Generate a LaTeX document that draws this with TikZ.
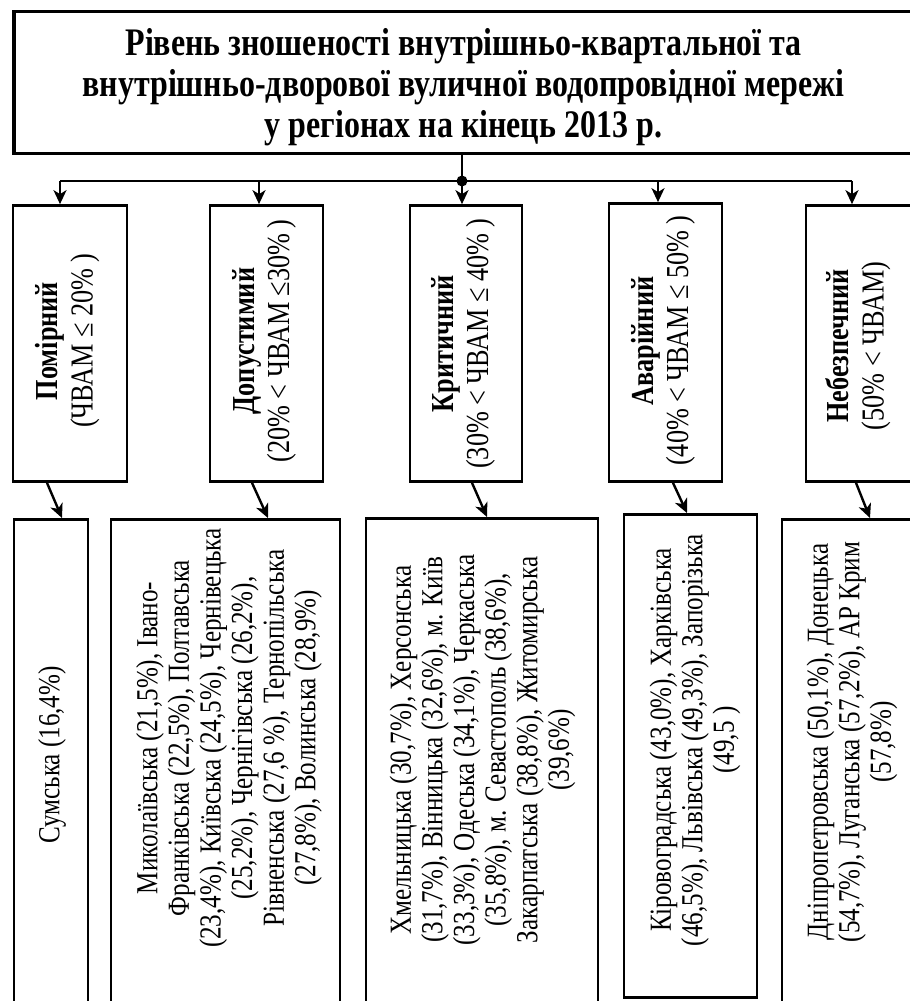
\documentclass[tikz,border=0pt]{standalone}
\usepackage{fontspec}
\setmainfont[FakeStretch=0.82]{Liberation Serif}
\usetikzlibrary{arrows.meta,calc}

\tikzset{
  box/.style={draw, line width=2.7pt, inner sep=0pt},
  levtext/.style={rotate=90, align=center, inner sep=0pt, font=\fontsize{32}{35}\selectfont},
  regtext/.style={rotate=90, align=center, inner sep=0pt, font=\fontsize{30.6}{31.6}\selectfont},
  line/.style={line width=2.4pt},
  conn/.style={line width=2.4pt, -{Stealth[length=14pt,width=13pt,inset=4pt]}}
}

\begin{document}
\begin{tikzpicture}[x=1pt,y=-1pt]
\useasboundingbox (0,0) rectangle (910,1001);
\fill[white] (0,0) rectangle (910,1001);
\clip (0,0) rectangle (910,1001);

\node[box, line width=3.6pt, minimum width=899, minimum height=142, align=center,
  font=\bfseries\fontsize{39}{41}\selectfont] (title) at (463.5,82.5)
  {\rule{0pt}{37pt}Рівень зношеності внутрішньо-квартальної та\\
   внутрішньо-дворової вуличної водопровідної мережі\\
   у регіонах на кінець 2013 р.};

\node[box, minimum width=114, minimum height=276] (lvl1) at (70,343.5) {};
\node[box, minimum width=113, minimum height=276] (lvl2) at (266.5,343.5) {};
\node[box, minimum width=112, minimum height=276] (lvl3) at (466,343.5) {};
\node[box, minimum width=113, minimum height=278] (lvl4) at (665.5,342.5) {};
\node[box, minimum width=113, minimum height=276] (lvl5) at (862.5,343.5) {};

\node[levtext] (lvl1t) at (67.5,341) {\textbf{Помірний}\\(ЧВАМ ≤ 20\%\,)};
\node[levtext] (lvl2t) at (264,341) {\textbf{Допустимий}\\(20\% < ЧВАМ ≤30\%\,)};
\node[levtext] (lvl3t) at (463,344) {\textbf{Критичний}\\(30\% < ЧВАМ ≤ 40\%\,)};
\node[levtext] (lvl4t) at (663,341) {\textbf{Аварійний}\\(40\% < ЧВАМ ≤ 50\%\,)};
\node[levtext] (lvl5t) at (858,346) {\textbf{Небезпечний}\\(50\% < ЧВАМ)};

\node[box, anchor=north, minimum width=74, minimum height=600] (res1) at (51,518) {};
\node[box, anchor=north, minimum width=229, minimum height=600] (res2) at (225.5,518) {};
\node[box, anchor=north, minimum width=232, minimum height=600] (res3) at (482,517) {};
\node[box, anchor=north, minimum width=133, minimum height=483] (res4) at (690.5,513) {};
\node[box, anchor=north, minimum width=140, minimum height=600] (res5) at (852,518) {};

\node[regtext] (res1t) at (52,755) {Сумська (16,4\%)};
\node[regtext] (res2t) at (229,738) {Миколаївська (21,5\%), Івано-\\
  Франківська (22,5\%), Полтавська\\
  (23,4\%), Київська (24,5\%), Чернівецька\\
  (25,2\%), Чернігівська (26,2\%),\\
  Рівненська (27,6 \%), Тернопільська\\
  (27,8\%), Волинська (28,9\%)};
\node[regtext] (res3t) at (482.5,750) {Хмельницька (30,7\%), Херсонська\\
  (31,7\%), Вінницька (32,6\%), м. Київ\\
  (33,3\%), Одеська (34,1\%), Черкаська\\
  (35,8\%), м. Севастополь (38,6\%),\\
  Закарпатська (38,8\%), Житомирська\\
  (39,6\%)};
\node[regtext] (res4t) at (695,740) {Кіровоградська (43,0\%), Харківська\\
  (46,5\%), Львівська (49,3\%), Запорізька\\
  (49,5 )};
\node[regtext] (res5t) at (852,742) {Дніпропетровська (50,1\%), Донецька\\
  (54,7\%), Луганська (57,2\%), АР Крим\\
  (57,8\%)};

\coordinate (bus) at (462,181);
\coordinate (in1) at ([xshift=-10pt]lvl1.north);
\coordinate (in2) at ([xshift=-7.5pt]lvl2.north);
\coordinate (in3) at ([xshift=-4pt]lvl3.north);
\coordinate (in4) at ([xshift=-7.5pt]lvl4.north);
\coordinate (in5) at ([xshift=-10.5pt]lvl5.north);

\draw[conn] (title.south -| in3) -- (in3);
\draw[line] (in1 |- bus) -- (in5 |- bus);
\draw[conn] (in1 |- bus) -- (in1);
\draw[conn] (in2 |- bus) -- (in2);
\draw[conn] (in4 |- bus) -- (in4);
\draw[conn] (in5 |- bus) -- (in5);
\fill (in3 |- bus) circle (5.5pt);

\draw[conn] ([xshift=-23pt]lvl1.south) -- ([xshift=11pt]res1.north);
\draw[conn] ([xshift=-14.5pt]lvl2.south) -- ([xshift=42.5pt]res2.north);
\draw[conn] ([xshift=6pt]lvl3.south) -- ([xshift=5pt]res3.north);
\draw[conn] ([xshift=7.5pt]lvl4.south) -- ([xshift=-3.5pt]res4.north);
\draw[conn] ([xshift=-6.5pt]lvl5.south) -- ([xshift=18pt]res5.north);
\end{tikzpicture}
\end{document}
